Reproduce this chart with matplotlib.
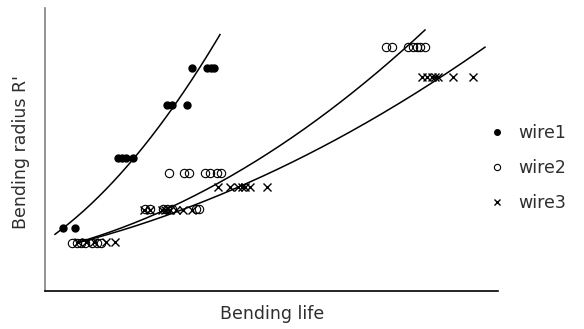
import numpy as np
import matplotlib
matplotlib.use("Agg")
import matplotlib.pyplot as plt

plt.rcParams['font.family'] = ['DejaVu Sans']

# Data (arbitrary units)
w1_x = [18, 30, 73, 77, 81, 88, 122, 127, 142, 147, 162, 166, 169]
w1_y = [63, 63, 133, 133, 133, 133, 186, 186, 186, 223, 223, 223, 223]

w2_x = [27, 32, 36, 40, 47, 52, 56,
        100, 105, 118, 122, 127, 151, 154,
        124, 139, 144, 160, 165, 172, 176,
        341, 347, 363, 368, 372, 375, 380]
w2_y = [48, 48, 48, 48, 48, 48, 48,
        82, 82, 82, 82, 82, 82, 82,
        118, 118, 118, 118, 118, 118, 118,
        244, 244, 244, 244, 244, 244, 244]

w3_x = [33, 41, 49, 61, 70,
        99, 105, 117, 120, 125, 131, 138, 147,
        173, 185, 193, 197, 200, 205, 222,
        377, 382, 387, 390, 393, 408, 428]
w3_y = [49, 49, 49, 49, 49,
        81, 81, 81, 81, 81, 81, 81, 81,
        104, 104, 104, 104, 104, 104, 104,
        214, 214, 214, 214, 214, 214, 214]

# Trend curve anchors
c1_x = [10, 98, 127, 155, 175]
c1_y = [57, 141, 186, 223, 256]
c2_x = [33, 128, 228, 268, 302, 335, 355, 380]
c2_y = [48, 86, 141, 169, 193, 219, 238, 263]
c3_x = [33, 128, 245, 277, 335, 385, 440]
c3_y = [48, 79, 128, 141, 178, 208, 243]

labels = ['wire1', 'wire2', 'wire3']
txt_color = '#2e2e2e'
fs = 12.5

fig = plt.figure(figsize=(5.84, 3.29), dpi=100)
ax = fig.add_axes([45/584, 38/329, 453/584, 283/329])
ax.set_xlim(0, 453)
ax.set_ylim(0, 283)

for cx, cy in [(c1_x, c1_y), (c2_x, c2_y), (c3_x, c3_y)]:
    p = np.polyfit(cx, cy, 2)
    xs = np.linspace(min(cx), max(cx), 200)
    ax.plot(xs, np.polyval(p, xs), color='black', lw=1.1)

ax.plot(w1_x, w1_y, 'o', color='black', ms=5, ls='none')
ax.plot(w2_x, w2_y, 'o', mfc='none', mec='black', mew=0.8, ms=6, ls='none')
ax.plot(w3_x, w3_y, 'x', color='black', mew=1.0, ms=6, ls='none')

# legend handles
h1, = ax.plot([], [], 'o', color='black', ms=4)
h2, = ax.plot([], [], 'o', mfc='none', mec='black', mew=0.8, ms=4.5)
h3, = ax.plot([], [], 'x', color='black', mew=1.0, ms=4.5)
leg = fig.legend([h1, h2, h3], labels, loc='center left', bbox_to_anchor=(481/584, 1 - 168/329),
                 frameon=False, handlelength=1.0, handletextpad=0.75, labelspacing=1.0,
                 borderaxespad=0, fontsize=fs)
for t in leg.get_texts():
    t.set_color(txt_color)

for s in ['top', 'right']:
    ax.spines[s].set_visible(False)
ax.spines['left'].set_color('#808080')
ax.spines['left'].set_linewidth(1.2)
ax.spines['bottom'].set_color('black')
ax.spines['bottom'].set_linewidth(1.2)
ax.set_xticks([])
ax.set_yticks([])

fig.text(272/584, 1 - 314/329, 'Bending life', ha='center', va='center', fontsize=fs, color=txt_color)
fig.text(21/584, 1 - 152/329, "Bending radius R'", ha='center', va='center', rotation=90,
         fontsize=fs, color=txt_color)

fig.savefig('out.png', dpi=100)
